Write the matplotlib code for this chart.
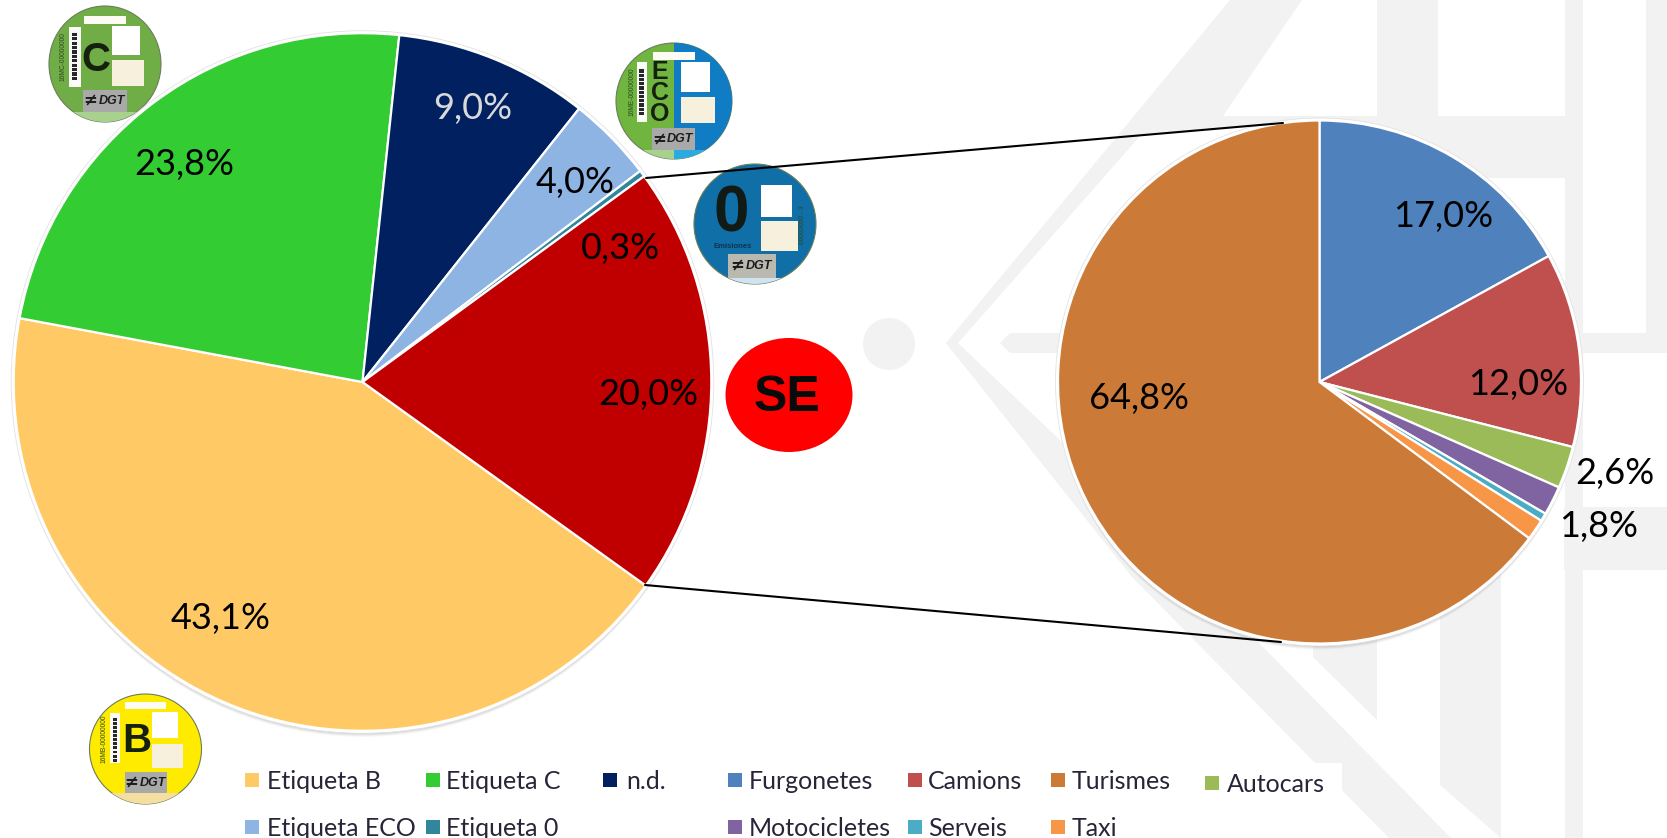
import matplotlib
matplotlib.use("Agg")
import matplotlib.pyplot as plt
from matplotlib.patches import Circle, Ellipse, Polygon, Rectangle

# ---------- data ----------
left_categories = ["Etiqueta B", "Etiqueta C", "n.d.", "Etiqueta ECO", "Etiqueta 0", "SE"]
left_values = [43.1, 23.8, 9.0, 4.0, 0.3, 20.0]
left_colors = ["#FFCA66", "#33CC33", "#002060", "#8DB4E2", "#31859C", "#C00000"]

right_categories = ["Furgonetes", "Camions", "Autocars", "Motocicletes", "Serveis", "Taxi", "Turismes"]
right_values = [17.0, 12.0, 2.6, 1.8, 0.5, 1.3, 64.8]
right_colors = ["#4F81BD", "#C0504D", "#9BBB59", "#8064A2", "#4BACC6", "#F79646", "#CB7A38"]

# ---------- layout (pixels from top-left of the picture) ----------
W, H = 1667, 838
FONT = "Lato"
GREY = "#F2F2F2"


def Y(y):
    return H - y


fig = plt.figure(figsize=(W / 100, H / 100), dpi=100, facecolor="white")
ax = fig.add_axes([0, 0, 1, 1])
ax.set_xlim(0, W)
ax.set_ylim(0, H)


def poly(points, color=GREY, z=1):
    ax.add_patch(Polygon([(x, Y(y)) for x, y in points], closed=True, fc=color, ec="none", zorder=z))


def rect(x0, y0, x1, y1, color=GREY, z=1):
    ax.add_patch(Rectangle((x0, Y(y1)), x1 - x0, y1 - y0, fc=color, ec="none", zorder=z))


# ---------- watermark ----------
ax.add_patch(Circle((889, Y(344)), 26, fc=GREY, ec="none", zorder=1))
poly([(946, 343), (1230, 0), (1302, 0), (1223, 116), (1290, 116), (1283, 123), (1140, 136), (958, 343)])
poly([(946, 343), (1132, 577), (1389, 838), (1451, 838), (1259, 643), (1063, 443), (958, 343)])
poly([(1000, 343), (1010, 333), (W, 333), (W, 353), (1010, 353)])
rect(1283, 116, 1565, 178)
rect(1377, 0, 1438, 178)
rect(1565, 0, 1583, H)
rect(1646, 0, W, 353)
rect(1564, 507, W, 570)
poly([(1313, 500), (1377, 500), (1377, 720), (1313, 657)])
poly([(1440, 500), (1501, 500), (1501, 838), (1440, 785)])
rect(230, 763, 1342, H, color="white", z=1.5)


# ---------- windscreen badges ----------
def badge(origin, center, radii, fill, top_rect, strip, barcode, sq_white, sq_cream, box,
          band_y, band_color, strip_text, strip_x, halves=None, box_color="#A9A9A9"):
    ox, oy = origin
    px = lambda v: ox + v / 3
    py = lambda v: oy + v / 3

    def r(b, color, z=2.2):
        rect(px(b[0]), py(b[1]), px(b[2]), py(b[3]), color=color, z=z)

    shape = Ellipse((center[0], Y(center[1])), 2 * radii[0], 2 * radii[1], fc=fill, ec="#6b7d5a", lw=0.8, zorder=2)
    ax.add_patch(shape)
    if halves:
        half = Rectangle((center[0], Y(center[1] + radii[1])), radii[0], 2 * radii[1], fc=halves[0], ec="none", zorder=2.05)
        ax.add_patch(half)
        half.set_clip_path(shape)
    low = Rectangle((center[0] - radii[0], Y(py(band_y + 60))), 2 * radii[0], 60 / 3,
                    fc=band_color[0], ec="none", zorder=2.1)
    ax.add_patch(low)
    low.set_clip_path(shape)
    if len(band_color) > 1:
        low2 = Rectangle((center[0], Y(py(band_y + 60))), radii[0], 60 / 3, fc=band_color[1], ec="none", zorder=2.12)
        ax.add_patch(low2)
        low2.set_clip_path(shape)
    if top_rect:
        r(top_rect, "#FCFCF4")
    if strip:
        r(strip, "#FBFBF8")
    if barcode:
        r(barcode, "#26282c", z=2.3)
        step = (barcode[3] - barcode[1]) / 22
        for i in range(0, 22, 2):
            r((barcode[0], barcode[1] + i * step, barcode[2], barcode[1] + (i + 0.55) * step), "#F5F5F2", z=2.35)
    r(sq_white, "#FFFFFF")
    r(sq_cream, "#F7F0DC")
    r(box, box_color)
    bx = (box[0] + box[2]) / 2
    by = (box[1] + box[3]) / 2
    ax.text(px(bx - 43), Y(py(by)), "≠", family="DejaVu Sans", weight="bold", fontsize=12, color="#1c1c1c",
            ha="center", va="center", zorder=2.5)
    ax.text(px(bx + 21), Y(py(by)), "DGT", family="Liberation Sans", weight="bold", style="italic", fontsize=9,
            color="#1c1c1c", ha="center", va="center", zorder=2.5)
    ax.text(px(strip_x), Y(py((strip[1] + strip[3]) / 2 if strip else 200)), strip_text, family="Liberation Sans",
            fontsize=4.8, color="#2d4a1e", rotation=90, ha="center", va="center", zorder=2.5)


def big_letter(x, y, s, size, color="#16200f", weight="bold"):
    ax.text(x, Y(y), s, family="Liberation Sans", weight=weight, fontsize=size, color=color,
            ha="center", va="center", zorder=2.6)


# C badge
badge((40, 0), (105, 64), (56, 58), "#70AD47",
      (133, 47, 258, 72), (88, 80, 122, 260), (95, 95, 112, 240), (215, 78, 300, 165), (215, 180, 312, 258),
      (130, 270, 260, 335), 335, ["#A9D18E"], "16MC-00000000", 70)
big_letter(40 + 167 / 3, 180 / 3, "C", 29)

# ECO badge
badge((610, 35), (674, 101), (58, 58), "#6FB53F",
      (128, 52, 255, 75), (80, 80, 112, 262), (88, 100, 103, 240), (212, 82, 300, 170), (212, 185, 315, 265),
      (125, 280, 255, 345), 345, ["#A9D18E", "#29ABE2"], "16ME-00000000", 66, halves=["#0F7CC4"])
for ch, ly in zip("ECO", [110, 175, 238]):
    big_letter(610 + 150 / 3, 35 + ly / 3, ch, 18)

# 0 badge
badge((685, 158), (755, 224), (61, 60), "#0F6FA6",
      None, None, None, (228, 82, 322, 178), (228, 190, 340, 278),
      (130, 287, 272, 360), 360, ["#CFE3F0"], "00000000 - 3", 352, box_color="#B9B9B0")
big_letter(685 + 140 / 3, 158 + 168 / 3, "0", 46, color="#111a14")
ax.text(685 + 143 / 3, Y(158 + 267 / 3), "Emisiones", family="Liberation Sans", weight="bold", fontsize=5.5,
        color="#0d3350", ha="center", va="center", zorder=2.6)

# B badge
badge((80, 685), (145.5, 749), (56, 55), "#FFEB00",
      (135, 50, 258, 72), (90, 85, 120, 235), (98, 95, 112, 230), (215, 82, 295, 160), (215, 178, 310, 250),
      (135, 262, 260, 325), 325, ["#F5DFA0"], "16MB-00000000", 72)
big_letter(80 + 170 / 3, 685 + 167 / 3, "B", 29)


# ---------- pies ----------
def pie(values, colors, center, radius, start):
    cx, cy = center
    for d, a in [(1, 0.10), (2, 0.10), (3, 0.09), (4, 0.07), (5, 0.05)]:
        ax.add_patch(Circle((cx, Y(cy + d)), radius + 1, fc="#606060", ec="none", alpha=a, zorder=2.8))
    ax.add_patch(Circle((cx, Y(cy)), radius + 2.5, fc="white", ec="#E2E2E2", lw=0.6, zorder=2.9))
    ax.pie(values, colors=colors, center=(cx, Y(cy)), radius=radius, startangle=start, counterclock=False,
           frame=True, wedgeprops=dict(edgecolor="white", linewidth=1.6, zorder=3))


pie(left_values, left_colors, (362.5, 382), 348.8, -35.7)
pie(right_values, right_colors, (1319.5, 382), 261.5, 90)
ax.set_xlim(0, W)
ax.set_ylim(0, H)
ax.set_aspect("auto")
ax.axis("off")

# ---------- connectors between the pies ----------
ax.plot([646, 1283], [Y(178), Y(123)], color="black", lw=1.5, zorder=4, solid_capstyle="round")
ax.plot([645, 1281], [Y(585), Y(642)], color="black", lw=1.5, zorder=4, solid_capstyle="round")


# ---------- value labels ----------
def pct(v):
    return f"{v:.1f}%".replace(".", ",")


left_label_px = {"Etiqueta C": (184, 165), "n.d.": (473, 109), "Etiqueta ECO": (575, 182),
                 "Etiqueta 0": (620, 249), "SE": (648, 394), "Etiqueta B": (221, 619)}
right_label_px = {"Furgonetes": (1443, 217), "Camions": (1518, 384), "Turismes": (1139, 399),
                  "Autocars": (1615, 473), "Motocicletes": (1599, 526)}

for cats, vals, where in [(left_categories, left_values, left_label_px),
                          (right_categories, right_values, right_label_px)]:
    for c, v in zip(cats, vals):
        if c in where:
            x, y = where[c]
            ax.text(x, Y(y), pct(v), family=FONT, fontsize=26, ha="center", va="center", zorder=5,
                    color="#D9D9D9" if c == "n.d." else "black")

# ---------- SE marker ----------
ax.add_patch(Ellipse((789, Y(395)), 127, 114, fc="#FF0000", ec="none", zorder=3))
ax.text(787, Y(398), "SE", family="Liberation Sans", weight="bold", fontsize=36, color="#0a0a0a",
        ha="center", va="center", zorder=5)

# ---------- legend ----------
color_of = dict(zip(left_categories + right_categories, left_colors + right_colors))
legend_px = {"Etiqueta B": (245, 267, 780), "Etiqueta C": (426, 446, 780), "n.d.": (603, 626, 780),
             "Furgonetes": (728, 749, 780), "Camions": (908, 928, 780), "Turismes": (1051, 1072, 780),
             "Autocars": (1205, 1227, 783), "Etiqueta ECO": (245, 267, 827), "Etiqueta 0": (426, 446, 827),
             "Motocicletes": (728, 749, 827), "Serveis": (908, 928, 827), "Taxi": (1051, 1072, 827)}
for name, (sx, tx, y) in legend_px.items():
    ax.add_patch(Rectangle((sx, Y(y + 7)), 14, 14, fc=color_of[name], ec="none", zorder=5))
    ax.text(tx, Y(y + 1), name, family=FONT, fontsize=18, color="#262638", ha="left", va="center", zorder=5)

fig.savefig("out.png", dpi=100, facecolor="white")
